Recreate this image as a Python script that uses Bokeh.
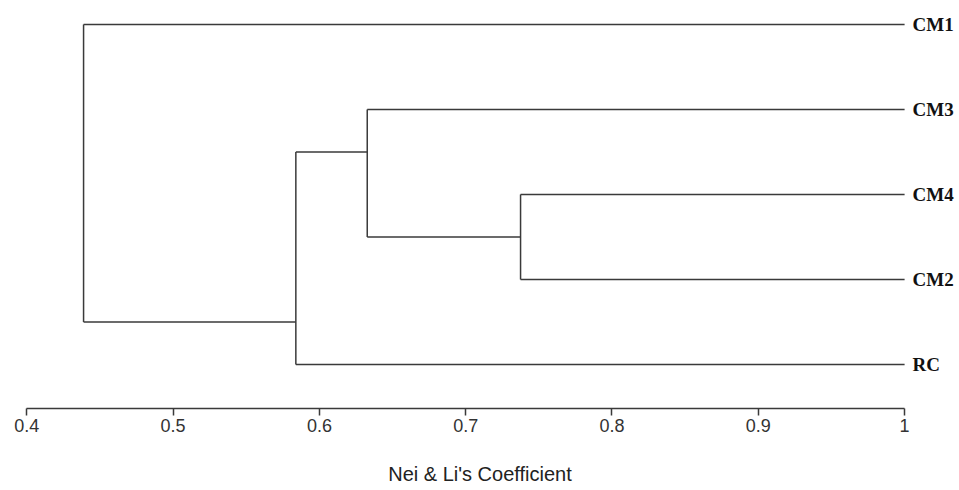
from bokeh.plotting import figure
from bokeh.models import Range1d, LinearAxis, FixedTicker, ColumnDataSource
from bokeh.core.properties import value
from bokeh.embed import file_html
from bokeh.resources import INLINE

# Leaves (top to bottom) and their vertical positions
leaves = ["CM1", "CM3", "CM4", "CM2", "RC"]
leaf_y = [5, 4, 3, 2, 1]

# Internal nodes: coefficient, children, drawn y of node's link to parent
node_names = ["D", "C", "B", "A"]
node_height = [0.7375, 0.6327, 0.5839, 0.4388]
node_left = ["CM4", "CM3", "C", "CM1"]
node_right = ["CM2", "D", "RC", "B"]
node_y = [2.5, 3.5, 1.5, None]

tick_values = [0.4, 0.5, 0.6, 0.7, 0.8, 0.9, 1.0]
tick_labels = ["0.4", "0.5", "0.6", "0.7", "0.8", "0.9", "1"]
leaf_end = 1.0

ypos = dict(zip(leaves, leaf_y))
xpos = {l: leaf_end for l in leaves}
for n, h, y in zip(node_names, node_height, node_y):
    ypos[n] = y
    xpos[n] = h

x0, y0, x1, y1 = [], [], [], []
for n, h, a, b in zip(node_names, node_height, node_left, node_right):
    x0.append(h); x1.append(h); y0.append(ypos[a]); y1.append(ypos[b])
    for c in (a, b):
        x0.append(h); x1.append(xpos[c]); y0.append(ypos[c]); y1.append(ypos[c])

W, H = 959, 490
p = figure(width=W, height=H, output_backend="svg", toolbar_location=None,
           x_range=Range1d(0.38202, 1.03753), y_range=Range1d(0.4824, 5.2824),
           min_border_left=0, min_border_right=0, min_border_top=0,
           min_border_bottom=82, x_axis_location=None, y_axis_location=None)
p.grid.visible = False
p.outline_line_color = None
p.background_fill_color = "white"
p.border_fill_color = "white"

p.segment(x0=x0, y0=y0, x1=x1, y1=y1, line_color="#3a3a3a", line_width=1.5)

src = ColumnDataSource(dict(x=[leaf_end] * len(leaves), y=leaf_y, t=leaves))
p.text(x="x", y="y", text="t", source=src, x_offset=8, text_baseline="middle",
       text_align="left", text_font=value("Liberation Serif"), text_font_style="bold",
       text_font_size="19px", text_color="#111111")

ax = LinearAxis(bounds=(0.4, 1.0), ticker=FixedTicker(ticks=tick_values),
                axis_label="Nei & Li's Coefficient")
ax.major_label_overrides = {v: l for v, l in zip(tick_values, tick_labels)}
ax.minor_tick_line_color = None
ax.major_tick_in = 0
ax.major_tick_out = 7
ax.axis_line_color = "#3a3a3a"
ax.axis_line_width = 1.5
ax.major_tick_line_color = "#3a3a3a"
ax.major_tick_line_width = 1.5
ax.major_label_text_font = "Liberation Sans"
ax.major_label_text_font_size = "18px"
ax.major_label_text_color = "#333333"
ax.major_label_standoff = 3
ax.axis_label_text_font = "Liberation Sans"
ax.axis_label_text_font_size = "20px"
ax.axis_label_text_font_style = "normal"
ax.axis_label_text_color = "#222222"
ax.axis_label_standoff = 28
p.add_layout(ax, "below")

open("out.html", "w").write(file_html(p, INLINE))
